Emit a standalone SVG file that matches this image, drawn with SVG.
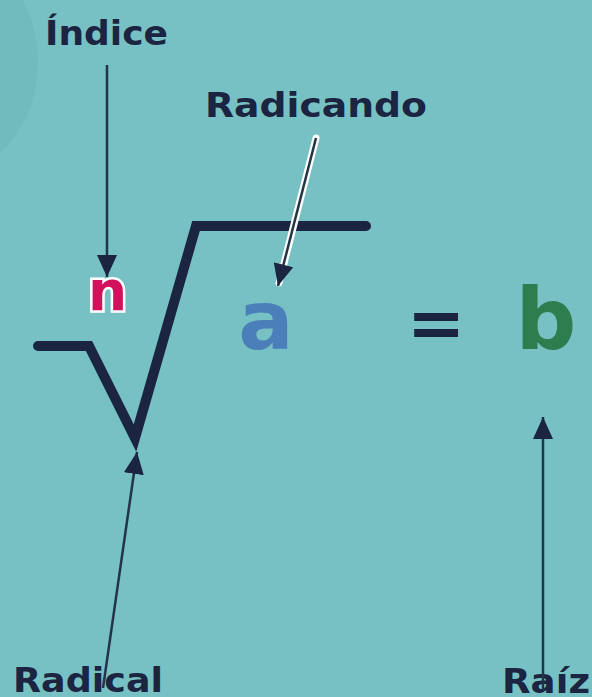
<svg xmlns="http://www.w3.org/2000/svg" width="592" height="697" viewBox="0 0 592 697">
<style>
.lbl{font-family:"DejaVu Sans","Liberation Sans",sans-serif;font-weight:bold;font-size:34px;fill:#1b2440}
.sym{font-family:"DejaVu Sans","Liberation Sans",sans-serif;font-weight:bold;text-anchor:middle}
.conn{stroke:#243447;stroke-width:2.5;fill:none}
</style>
<defs>
<marker id="ah" markerUnits="userSpaceOnUse" markerWidth="22" markerHeight="22" viewBox="0 0 22 22" refX="22" refY="11" orient="auto">
<path d="M0,1 L22,11 L0,21 Z" fill="#1b2440"/>
</marker>
</defs>
<rect width="592" height="697" fill="#77c0c3"/>
<ellipse cx="-50" cy="62" rx="88" ry="110" fill="#6fbbbe"/>
<g id="radical-sign">
<path d="M38,346 L89,346 L135,438 L196,226 L366,226" fill="none" stroke="#1b2440" stroke-width="10" stroke-linecap="round" stroke-linejoin="miter"/>
</g>
<g id="index-n">
<text class="sym" x="107.5" y="310" font-size="55" fill="#d3105b" stroke="#ffffff" stroke-width="5" paint-order="stroke">n</text>
</g>
<g id="radicand-a">
<text class="sym" x="266" y="349" font-size="82" fill="#4a7fba">a</text>
</g>
<g id="equals">
<text class="sym" x="436" y="347" font-size="70" fill="#1b2440">=</text>
</g>
<g id="root-b">
<text class="sym" x="546" y="349" font-size="85" fill="#2e7d4e">b</text>
</g>
<g id="label-indice"><text class="lbl" x="45" y="45" textLength="123" lengthAdjust="spacingAndGlyphs">Índice</text></g>
<g id="label-radicando"><text class="lbl" x="205" y="117" textLength="222" lengthAdjust="spacingAndGlyphs">Radicando</text></g>
<g id="label-radical"><text class="lbl" x="13" y="692" textLength="150" lengthAdjust="spacingAndGlyphs">Radical</text></g>
<g id="label-raiz"><text class="lbl" x="502" y="693" textLength="88" lengthAdjust="spacingAndGlyphs">Raíz</text></g>
<g id="connectors">
<line class="conn" x1="107" y1="65" x2="107" y2="277" marker-end="url(#ah)"/>
<line x1="316" y1="138" x2="279" y2="283" stroke="#ffffff" stroke-width="7" stroke-linecap="round"/>
<line class="conn" x1="316" y1="138" x2="278" y2="286" marker-end="url(#ah)" stroke="#1b2440"/>
<line class="conn" x1="103" y1="688" x2="137" y2="452" marker-end="url(#ah)"/>
<line class="conn" x1="543" y1="690" x2="543" y2="417" marker-end="url(#ah)"/>
</g>
</svg>
